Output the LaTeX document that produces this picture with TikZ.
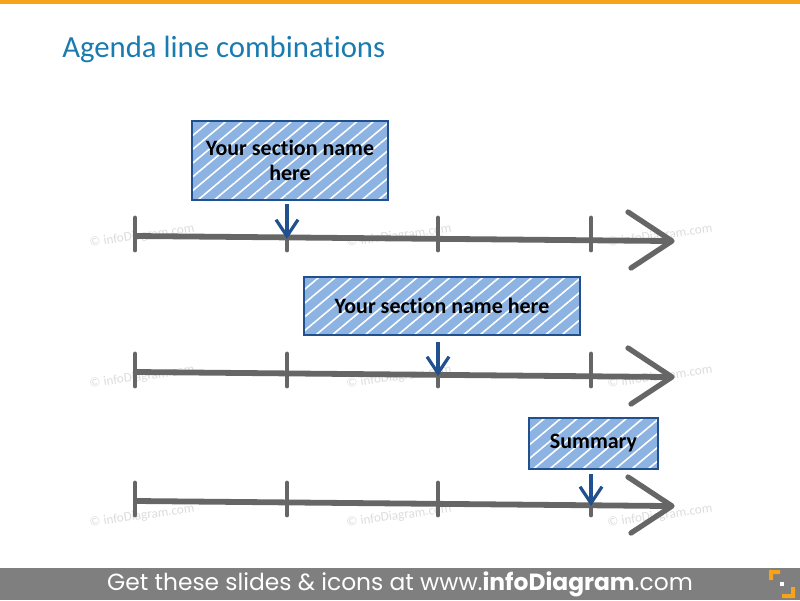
\documentclass[tikz,border=0pt]{standalone}
\usepackage{fontspec}
\setmainfont{Carlito}[Ligatures=NoCommon]
\newfontfamily\footfont{Poppins}
\usetikzlibrary{positioning,arrows.meta,patterns.meta}
\definecolor{barorange}{HTML}{F6A31B}
\definecolor{titleblue}{HTML}{1A7BB0}
\definecolor{linegray}{HTML}{666666}
\definecolor{boxblue}{HTML}{21508E}
\definecolor{boxfill}{HTML}{8DB3E2}
\definecolor{footgray}{HTML}{7F7F7F}
\definecolor{markgray}{HTML}{DCDCDC}

\tikzset{
  section/.style={draw=boxblue, line width=1.6pt, preaction={fill=boxfill},
    pattern={Lines[angle=40,distance=6pt,line width=0.9pt]}, pattern color=white,
    font=\bfseries\fontsize{12.5}{14.5}\selectfont, align=center, inner sep=0pt},
  conn/.style={->, boxblue, line width=1.8pt},
  timeline/.style={linegray, line width=3.3pt, line cap=round},
  tick/.style={linegray, line width=2.8pt, line cap=round},
  wmark/.style={markgray, font=\fontsize{7.5}{9}\selectfont, rotate=8}
}

\begin{document}
\begin{tikzpicture}[x=0.02cm,y=-0.02cm,
  >={Straight Barb[length=3.3mm,width=4.4mm]}]
\useasboundingbox (0,0) rectangle (800,600);

% top bar and title
\fill[barorange] (0,0) rectangle (800,4);
\node[anchor=base west, titleblue, font=\fontsize{17.5}{20}\selectfont, inner sep=0pt]
  (title) at (62,57) {Agenda line combinations};

% watermarks
\foreach \yy in {236,377,516}
  \foreach \xx in {142,399,660}
    \node[wmark] at (\xx,\yy) {© infoDiagram.com};

% the three agenda lines
\foreach \row/\yy in {1/238,2/374,3/503} {
  \coordinate (s\row) at (137,{\yy-2});
  \coordinate (e\row) at (668,{\yy+3});
  \draw[timeline] (s\row) -- (e\row);
  \foreach \k/\xx in {1/135,2/287,3/438,4/591} {
    \coordinate (t\row\k) at (\xx,{\yy-1+\k});
    \draw[tick] (\xx,{\yy-20}) -- (\xx,{\yy+12});
  }
  \draw[timeline, line width=3pt, line join=round]
    (628,{\yy-26}) -- (672,{\yy+3}) -- (631,{\yy+30});
}

% section boxes
\node[section, minimum width=3.92cm, minimum height=1.58cm] (sec1) at (290,160.5)
  {Your section name\\here};
\node[section, minimum width=5.52cm, minimum height=1.16cm] (sec2) at (442,306)
  {Your section name here};
\node[section, minimum width=2.58cm, minimum height=1.02cm] (sec3) at (593.5,443.5)
  {Summary};

\draw[conn] (sec1.south -| t12) ++(0,3) -- (t12);
\draw[conn] (sec2.south -| t23) ++(0,6) -- (t23);
\draw[conn] (sec3.south -| t34) ++(0,4) -- (t34);

% footer
\fill[footgray] (0,568) rectangle (800,600);
\node[white, font=\footfont\fontsize{13.3}{15}\selectfont] (foot) at (400,584)
  {Get these slides \& icons at www.\textbf{infoDiagram}.com};
\fill[barorange] (769,570) rectangle (780,574) (769,570) rectangle (773,580);
\fill[barorange] (791,587) rectangle (795,598) (782,594) rectangle (795,598);
\fill[white] (780,582) rectangle (784,586);
\end{tikzpicture}
\end{document}
